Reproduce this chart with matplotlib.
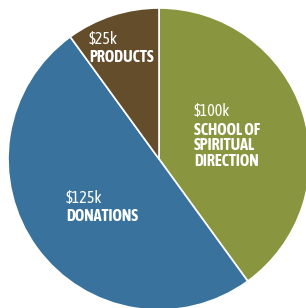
import matplotlib
matplotlib.use("Agg")
import matplotlib.pyplot as plt

# revenue sources, in thousands of dollars
labels = ["SCHOOL OF\nSPIRITUAL\nDIRECTION", "DONATIONS", "PRODUCTS"]
amounts = [100, 125, 25]
colors = ["#8a963f", "#39739d", "#634d2b"]

W, H = 306, 308
fig = plt.figure(figsize=(W / 100, H / 100), dpi=100)
ax = fig.add_axes([0, 0, 1, 1])

# pie centre and radius in pixels (y measured from the top)
cx, cy, r = 159, 159, 151
ax.pie(amounts, colors=colors, startangle=90, counterclock=False,
       center=(cx, H - cy), radius=r, frame=True,
       wedgeprops=dict(edgecolor="white", linewidth=1.2))
ax.set_xlim(0, W)
ax.set_ylim(0, H)
ax.set_aspect("equal")
ax.axis("off")

font = ["Asap Condensed", "Liberation Sans"]
# left edge, baseline of amount, baseline of first name line (pixels from top)
anchors = [(194, 116, 135), (66, 203, 221), (89, 44, 62)]
step = 15.5
for amt, name, (x, yv, yn) in zip(amounts, labels, anchors):
    ax.text(x, H - yv, f"${amt}k", color="white", fontsize=11.5, family=font,
            ha="left", va="baseline")
    for i, line in enumerate(name.split("\n")):
        ax.text(x, H - yn - i * step, line, color="white", fontsize=11.5,
                family=font, fontweight="bold", ha="left", va="baseline")

fig.savefig("out.png", dpi=100)
